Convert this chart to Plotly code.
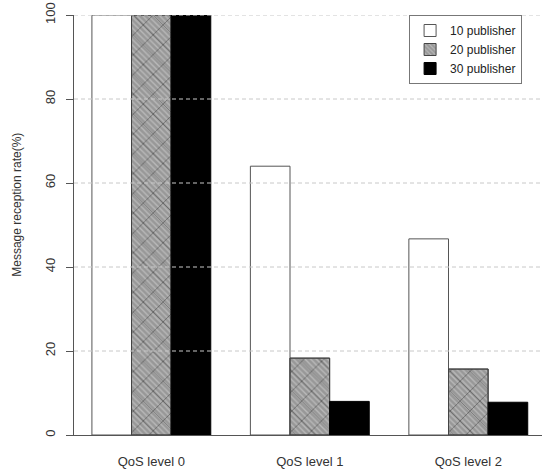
import plotly.graph_objects as go

categories = ["QoS level 0", "QoS level 1", "QoS level 2"]
pub10 = [100, 64, 46.7]
pub20 = [100, 18.3, 15.7]
pub30 = [100, 8, 7.8]
series_names = ["10 publisher", "20 publisher", "30 publisher"]
y_ticks = [0, 20, 40, 60, 80, 100]
grid_vals = [20, 40, 60, 80, 100]

W = 0.25
fig = go.Figure()
fig.add_trace(go.Bar(
    x=categories, y=pub10, name=series_names[0], width=W, offset=-1.5 * W,
    marker=dict(color="white", line=dict(color="#555", width=1)),
))
fig.add_trace(go.Bar(
    x=categories, y=pub20, name=series_names[1], width=W, offset=-0.5 * W,
    marker=dict(color="#a8a8a8", line=dict(color="#444", width=1),
                pattern=dict(shape="\\", size=4, solidity=0.35,
                             fgcolor="#dadada", bgcolor="#989898")),
))
fig.add_trace(go.Bar(
    x=categories, y=pub20, name=series_names[1], width=W, offset=-0.5 * W,
    showlegend=False, hoverinfo="skip",
    marker=dict(color="rgba(0,0,0,0)", line=dict(color="#444", width=1),
                pattern=dict(shape="x", size=14, solidity=0.1,
                             fgcolor="#111", bgcolor="rgba(0,0,0,0)")),
))
fig.add_trace(go.Bar(
    x=categories, y=pub30, name=series_names[2], width=W, offset=0.5 * W,
    marker=dict(color="black", line=dict(color="black", width=1)),
))

for v in grid_vals:
    fig.add_shape(type="line", xref="paper", x0=0, x1=1, yref="y", y0=v, y1=v,
                  line=dict(color="#c8c8c8", width=1, dash="4px,3px"), layer="above")

fig.add_annotation(text="Message reception rate(%)", xref="paper", yref="paper",
                   x=-0.122, y=0.548, xanchor="center", yanchor="middle",
                   textangle=-90, showarrow=False,
                   font=dict(family="Liberation Sans, Arial", size=12, color="#333"))

fig.update_layout(
    width=542, height=470,
    margin=dict(l=74, r=0, t=15, b=35),
    paper_bgcolor="white", plot_bgcolor="white",
    barmode="overlay",
    font=dict(family="Liberation Sans, Arial", size=13, color="#333"),
    showlegend=True,
    legend=dict(x=0.716, y=1.0, xanchor="left", yanchor="top",
                bordercolor="#777", borderwidth=1, bgcolor="white",
                font=dict(size=12, color="#222"), itemwidth=30,
                traceorder="normal", tracegroupgap=0),
    xaxis=dict(range=[-0.488, 2.465], showgrid=False, zeroline=False,
               showline=True, linecolor="#555", linewidth=1, ticks="",
               tickfont=dict(size=13, color="#333"), ticklabelstandoff=14),
    yaxis=dict(range=[0, 100], tickvals=y_ticks, showgrid=False, zeroline=False,
               showline=True, linecolor="#555", linewidth=1,
               ticks="outside", ticklen=7, tickcolor="#555", tickangle=-90,
               tickfont=dict(size=13, color="#333"), ticklabelstandoff=6),
)

fig.write_html("out.html", config={"displayModeBar": False},
               post_script="document.body.style.margin='0';document.body.style.padding='0';")
